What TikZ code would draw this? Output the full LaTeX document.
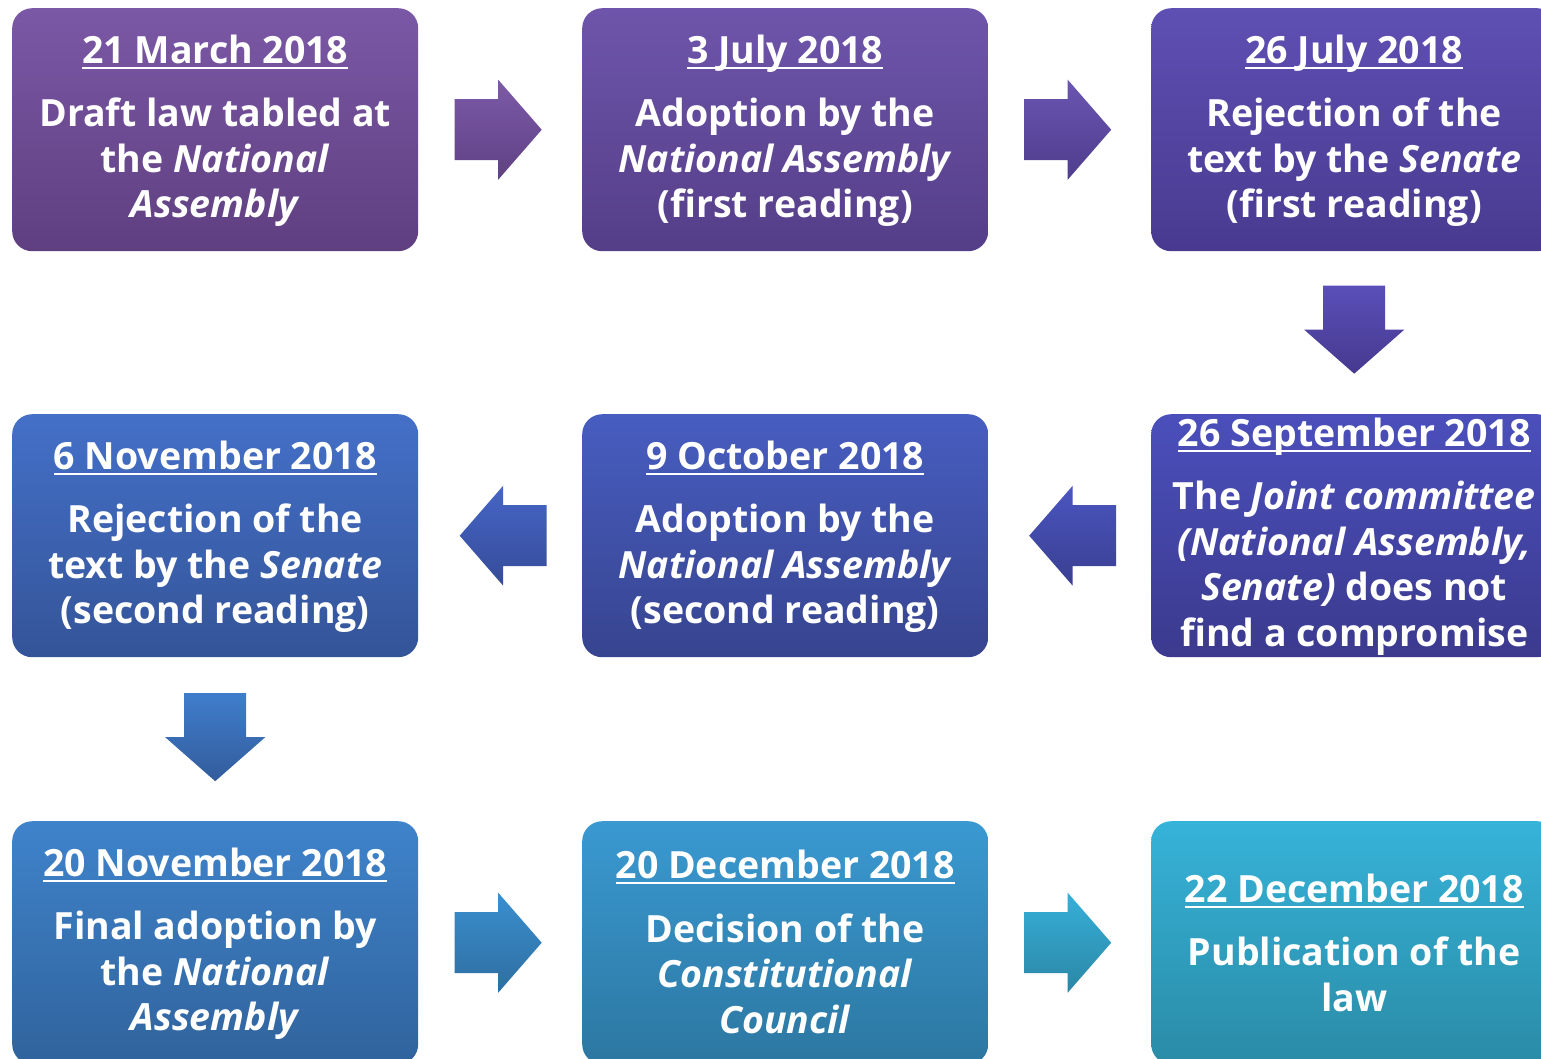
\documentclass[tikz,border=0pt]{standalone}
\usepackage{fontspec}
\setmainfont{Open Sans}
\usetikzlibrary{calc}

% box gradients (top / bottom)
\definecolor{b1t}{HTML}{7B58A6}\definecolor{b1b}{HTML}{5F3F80}
\definecolor{b2t}{HTML}{6E55AB}\definecolor{b2b}{HTML}{553E88}
\definecolor{b3t}{HTML}{5E4FB3}\definecolor{b3b}{HTML}{493A90}
\definecolor{b4t}{HTML}{4B4FBB}\definecolor{b4b}{HTML}{3B3A8E}
\definecolor{b5t}{HTML}{475DC0}\definecolor{b5b}{HTML}{37448F}
\definecolor{b6t}{HTML}{4470C8}\definecolor{b6b}{HTML}{345498}
\definecolor{b7t}{HTML}{3F83CB}\definecolor{b7b}{HTML}{30639C}
\definecolor{b8t}{HTML}{3A99D1}\definecolor{b8b}{HTML}{2C77A1}
\definecolor{b9t}{HTML}{36B3D9}\definecolor{b9b}{HTML}{2A8BA6}
% arrow gradients
\definecolor{a1t}{HTML}{7C5AA8}\definecolor{a1b}{HTML}{5F4184}
\definecolor{a2t}{HTML}{6A55B0}\definecolor{a2b}{HTML}{4F3D8E}
\definecolor{a3t}{HTML}{5A4FB8}\definecolor{a3b}{HTML}{46398F}
\definecolor{a4t}{HTML}{4A55C0}\definecolor{a4b}{HTML}{3A3F90}
\definecolor{a5t}{HTML}{4565C6}\definecolor{a5b}{HTML}{364C98}
\definecolor{a6t}{HTML}{3F7DCC}\definecolor{a6b}{HTML}{335C9C}
\definecolor{a7t}{HTML}{3A8FCF}\definecolor{a7b}{HTML}{2E6EA0}
\definecolor{a8t}{HTML}{36AFD8}\definecolor{a8b}{HTML}{2B87A6}

% underlined date line
\newcommand\uldate[1]{\setbox0=\hbox{#1}\rlap{\rule[-5.5pt]{\wd0}{2pt}}\box0}

\tikzset{
  stage/.style={rectangle, rounded corners=20pt, minimum width=406pt,
    minimum height=243pt, anchor=north west, inner sep=0pt, draw=none},
  lbl/.style={text=white, align=center, inner sep=0pt,
    font={\bfseries\fontsize{37.5}{45.5}\selectfont}},
  % block arrows drawn around a centre coordinate
  rightblk/.pic={\path[pic actions] (-43.5,-30.5) -- (0,-30.5) -- (0,-50)
    -- (43.5,0) -- (0,50) -- (0,30.5) -- (-43.5,30.5) -- cycle;},
  leftblk/.pic={\path[pic actions] (43.5,-30.5) -- (0,-30.5) -- (0,-50)
    -- (-43.5,0) -- (0,50) -- (0,30.5) -- (43.5,30.5) -- cycle;},
  downblk/.pic={\path[pic actions] (-31,-44) -- (31,-44) -- (31,0)
    -- (50,0) -- (0,44) -- (-50,0) -- (-31,0) -- cycle;},
}

\begin{document}
\begin{tikzpicture}[x=1pt,y=-1pt]
\clip (0,0) rectangle (1541,1058);
\fill[white] (0,0) rectangle (1541,1058);

% stage boxes
\node[stage, top color=b1t, bottom color=b1b] (s1) at (12,8) {};
\node[stage, top color=b2t, bottom color=b2b] (s2) at (582,8) {};
\node[stage, top color=b3t, bottom color=b3b] (s3) at (1151,8) {};
\node[stage, top color=b4t, bottom color=b4b] (s4) at (1151,414) {};
\node[stage, top color=b5t, bottom color=b5b] (s5) at (582,414) {};
\node[stage, top color=b6t, bottom color=b6b] (s6) at (12,414) {};
\node[stage, top color=b7t, bottom color=b7b] (s7) at (12,821) {};
\node[stage, top color=b8t, bottom color=b8b] (s8) at (582,821) {};
\node[stage, top color=b9t, bottom color=b9b] (s9) at (1151,821) {};

% stage texts
\node[lbl] (t1) at ([yshift=-1pt]s1.center) {\uldate{21 March 2018}\\[18pt]
  Draft law tabled at\\ the \textit{National}\\ \textit{Assembly}};
\node[lbl] (t2) at ([yshift=-1pt]s2.center) {\uldate{3 July 2018}\\[18pt]
  Adoption by the\\ \textit{National Assembly}\\ (first reading)};
\node[lbl] (t3) at ([yshift=-1pt]s3.center) {\uldate{26 July 2018}\\[18pt]
  Rejection of the\\ text by the \textit{Senate}\\ (first reading)};
\node[lbl] (t4) at ([yshift=-1pt]s4.center) {\uldate{26 September 2018}\\[18pt]
  The \textit{Joint committee}\\ \textit{(National Assembly,}\\
  \textit{Senate)} does not\\ find a compromise};
\node[lbl] (t5) at ([yshift=-1pt]s5.center) {\uldate{9 October 2018}\\[18pt]
  Adoption by the\\ \textit{National Assembly}\\ (second reading)};
\node[lbl] (t6) at ([yshift=-1pt]s6.center) {\uldate{6 November 2018}\\[18pt]
  Rejection of the\\ text by the \textit{Senate}\\ (second reading)};
\node[lbl] (t7) at ([yshift=-1pt]s7.center) {\uldate{20 November 2018}\\[18pt]
  Final adoption by\\ the \textit{National}\\ \textit{Assembly}};
\node[lbl] (t8) at ([yshift=1pt]s8.center) {\uldate{20 December 2018}\\[18pt]
  Decision of the\\ \textit{Constitutional}\\ \textit{Council}};
\node[lbl] (t9) at (s9.center) {\uldate{22 December 2018}\\[18pt]
  Publication of the\\ law};

% arrow centres, midway between consecutive stages
\coordinate (a1) at ($(s1.east)!0.5!(s2.west)+(-2,0)$);
\coordinate (a2) at ($(s2.east)!0.5!(s3.west)+(-2,0)$);
\coordinate (a3) at ($(s3.south)!0.5!(s4.north)+(0,-3)$);
\coordinate (a4) at ($(s4.west)!0.5!(s5.east)+(3,0)$);
\coordinate (a5) at ($(s5.west)!0.5!(s6.east)+(3,0)$);
\coordinate (a6) at ($(s6.south)!0.5!(s7.north)+(0,-2)$);
\coordinate (a7) at ($(s7.east)!0.5!(s8.west)+(-2,0)$);
\coordinate (a8) at ($(s8.east)!0.5!(s9.west)+(-2,0)$);

% block arrows
\pic[top color=a1t, bottom color=a1b] at (a1) {rightblk};
\pic[top color=a2t, bottom color=a2b] at (a2) {rightblk};
\pic[top color=a3t, bottom color=a3b] at (a3) {downblk};
\pic[top color=a4t, bottom color=a4b] at (a4) {leftblk};
\pic[top color=a5t, bottom color=a5b] at (a5) {leftblk};
\pic[top color=a6t, bottom color=a6b] at (a6) {downblk};
\pic[top color=a7t, bottom color=a7b] at (a7) {rightblk};
\pic[top color=a8t, bottom color=a8b] at (a8) {rightblk};
\end{tikzpicture}
\end{document}
